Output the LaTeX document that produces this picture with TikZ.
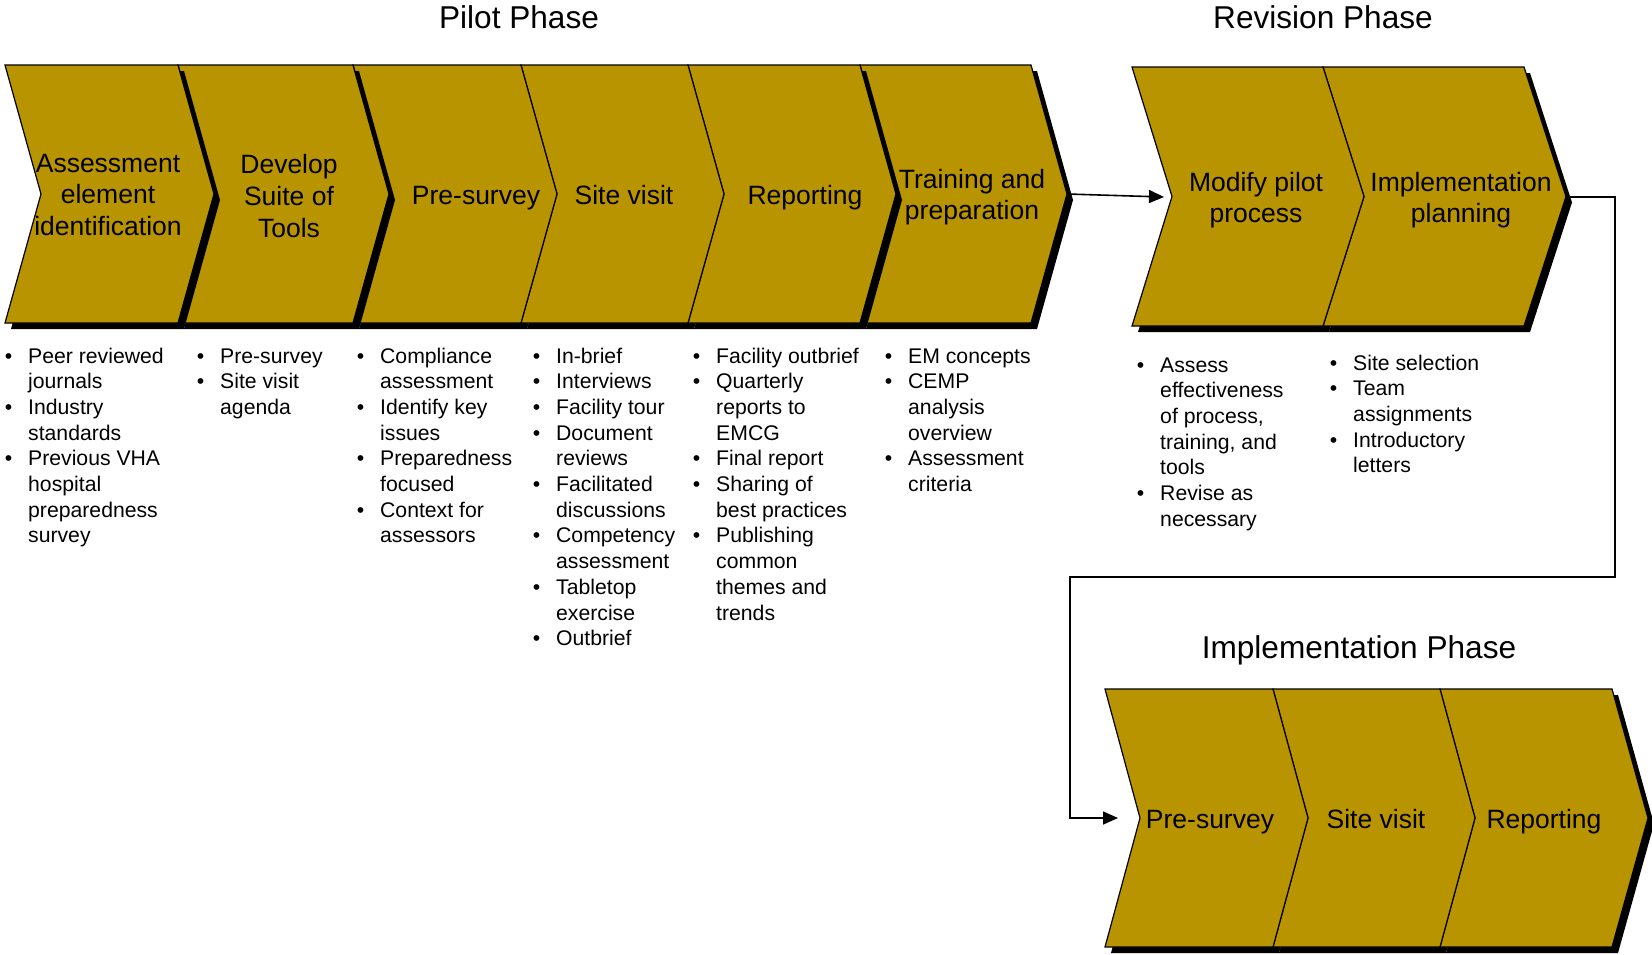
\documentclass[tikz,border=0pt]{standalone}
\usepackage{fontspec}
\setmainfont{Liberation Sans}
\usetikzlibrary{arrows.meta}
\definecolor{gold}{RGB}{184,148,0}
\newcommand\bi{\leavevmode\llap{\textbullet\hspace{16pt}}}
% chevron path: left x, right x, top y, bottom y, notch depth, tip depth
\newcommand\chevp[6]{(#1,#3) -- (#2,#3) -- ({#2+#6},{(#3+#4)/2}) -- (#2,#4) -- (#1,#4) -- ({#1+#5},{(#3+#4)/2}) -- cycle}
\tikzset{
  chevfill/.style={fill=gold, draw=black, line width=1.2pt, line join=miter},
  chevshadow/.style={fill=black, shift={(6,6)}},
  lbl/.style={font=\fontsize{26.5}{31.6}\selectfont, align=center, inner sep=0pt},
  lbone/.style={lbl, anchor=base},
  lst/.style={anchor=base west, inner sep=0pt, font=\fontsize{21.2}{25.7}\selectfont},
  ttl/.style={anchor=base, inner sep=0pt, font=\fontsize{31.6}{38}\selectfont},
  conn/.style={line width=1.6pt},
  arr/.style={-{Triangle[length=15pt,width=13pt]}}
}
\begin{document}
\begin{tikzpicture}[x=1pt,y=-1pt]
\useasboundingbox (0,0) rectangle (1652,954);
\fill[white] (0,0) rectangle (1652,954);

% ---------- Pilot phase chevrons ----------
% chevron 6
\fill[chevshadow] \chevp{860}{1031}{65}{323}{36}{36};
\draw[chevfill] \chevp{860}{1031}{65}{323}{36}{36};
% chevrons 3-5
\fill[chevshadow] \chevp{353}{521}{65}{323}{36}{36};
\fill[chevshadow] \chevp{521}{688}{65}{323}{36}{36};
\fill[chevshadow] \chevp{688}{860}{65}{323}{36}{36};
\draw[chevfill] \chevp{688}{860}{65}{323}{36}{36};
\draw[chevfill] \chevp{521}{688}{65}{323}{36}{36};
\draw[chevfill] \chevp{353}{521}{65}{323}{36}{36};
% chevron 2
\fill[chevshadow] \chevp{178}{353}{65}{323}{36}{36};
\draw[chevfill] \chevp{178}{353}{65}{323}{36}{36};
% chevron 1
\fill[chevshadow] \chevp{5}{178}{65}{323}{36}{36};
\draw[chevfill] \chevp{5}{178}{65}{323}{36}{36};

% ---------- Revision phase chevrons ----------
\fill[chevshadow] \chevp{1132}{1323}{67}{326}{40}{41};
\fill[chevshadow] \chevp{1323}{1524}{67}{326}{41}{42};
\draw[chevfill] \chevp{1323}{1524}{67}{326}{41}{42};
\draw[chevfill] \chevp{1132}{1323}{67}{326}{40}{41};

% ---------- Implementation phase chevrons ----------
\fill[chevshadow] \chevp{1105}{1273}{689}{947}{35}{35};
\fill[chevshadow] \chevp{1273}{1440}{689}{947}{35}{35};
\fill[chevshadow] \chevp{1440}{1612}{689}{947}{35}{36};
\draw[chevfill] \chevp{1440}{1612}{689}{947}{35}{36};
\draw[chevfill] \chevp{1273}{1440}{689}{947}{35}{35};
\draw[chevfill] \chevp{1105}{1273}{689}{947}{35}{35};

% ---------- Titles ----------
\node[ttl] (tPilot) at (519,28) {Pilot Phase};
\node[ttl] (tRev) at (1323,28) {Revision Phase};
\node[ttl] (tImp) at (1359,658) {Implementation Phase};

% ---------- Chevron labels ----------
\node[lbl] (p1) at (108,195) {Assessment\\element\\identification};
\node[lbl] (p2) at (289,196) {Develop\\Suite of\\Tools};
\node[lbone] (p3) at (476,204) {Pre-survey};
\node[lbone] (p4) at (624,204) {Site visit};
\node[lbone] (p5) at (805,204) {Reporting};
\node[lbl] (p6) at (972,197) {Training and\\preparation};
\node[lbl] (r1) at (1256,200) {Modify pilot\\process};
\node[lbl] (r2) at (1461,200) {Implementation\\planning};
\node[lbone] (i1) at (1210,828) {Pre-survey};
\node[lbone] (i2) at (1376,828) {Site visit};
\node[lbone] (i3) at (1544,828) {Reporting};

% ---------- Bullet lists ----------
\node[lst] (l1) at (28,363) {\parbox[t]{160pt}{\fontsize{21.2}{25.7}\selectfont
\bi Peer reviewed\\journals\\\bi Industry\\standards\\\bi Previous VHA\\hospital\\preparedness\\survey}};
\node[lst] (l2) at (220,363) {\parbox[t]{140pt}{\fontsize{21.2}{25.7}\selectfont
\bi Pre-survey\\\bi Site visit\\agenda}};
\node[lst] (l3) at (380,363) {\parbox[t]{150pt}{\fontsize{21.2}{25.7}\selectfont
\bi Compliance\\assessment\\\bi Identify key\\issues\\\bi Preparedness\\focused\\\bi Context for\\assessors}};
\node[lst] (l4) at (556,363) {\parbox[t]{150pt}{\fontsize{21.2}{25.7}\selectfont
\bi In-brief\\\bi Interviews\\\bi Facility tour\\\bi Document\\reviews\\\bi Facilitated\\discussions\\\bi Competency\\assessment\\\bi Tabletop\\exercise\\\bi Outbrief}};
\node[lst] (l5) at (716,363) {\parbox[t]{160pt}{\fontsize{21.2}{25.7}\selectfont
\bi Facility outbrief\\\bi Quarterly\\reports to\\EMCG\\\bi Final report\\\bi Sharing of\\best practices\\\bi Publishing\\common\\themes and\\trends}};
\node[lst] (l6) at (908,363) {\parbox[t]{150pt}{\fontsize{21.2}{25.7}\selectfont
\bi EM concepts\\\bi CEMP\\analysis\\overview\\\bi Assessment\\criteria}};
\node[lst] (l7) at (1160,372) {\parbox[t]{150pt}{\fontsize{21.2}{25.7}\selectfont
\bi Assess\\effectiveness\\of process,\\training, and\\tools\\\bi Revise as\\necessary}};
\node[lst] (l8) at (1353,370) {\parbox[t]{150pt}{\fontsize{21.2}{25.7}\selectfont
\bi Site selection\\\bi Team\\assignments\\\bi Introductory\\letters}};

% ---------- Connectors ----------
\coordinate (pTip) at (1067,194);
\coordinate (rIn) at (1164,197);
\coordinate (rTip) at (1566,197);
\coordinate (b1) at (1615,197);
\coordinate (b2) at (1615,577);
\coordinate (b3) at (1070,577);
\coordinate (b4) at (1070,818);
\coordinate (iIn) at (1118,818);
\draw[conn,arr] (pTip) -- (rIn);
\draw[conn,arr] (rTip) -- (b1) -- (b2) -- (b3) -- (b4) -- (iIn);
\end{tikzpicture}
\end{document}
